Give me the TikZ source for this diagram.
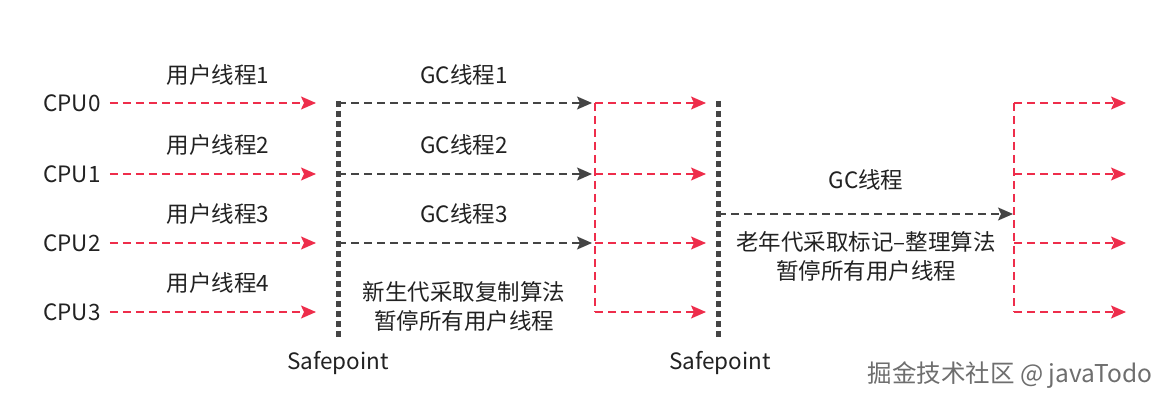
\documentclass[tikz,border=0pt]{standalone}
\usepackage{fontspec}
\setmainfont{Noto Sans CJK SC}
\usetikzlibrary{arrows.meta}
\definecolor{ured}{RGB}{238,45,75}
\definecolor{ugray}{RGB}{68,68,68}
\definecolor{utext}{RGB}{34,34,34}
\definecolor{wmark}{RGB}{110,110,110}
\tikzset{
  dashline/.style={line width=1.5pt, dash pattern=on 8pt off 5pt},
  redarr/.style={dashline, draw=ured, -{Stealth[length=15pt,width=13pt,inset=3pt]}},
  redline/.style={dashline, draw=ured},
  grayarr/.style={dashline, draw=ugray, -{Stealth[length=15pt,width=13pt,inset=3pt]}},
  safeline/.style={draw=ugray, line width=5pt, dash pattern=on 6pt off 4pt},
  lbl/.style={text=utext, font=\fontsize{22.5}{29}\selectfont, inner sep=0pt, align=center},
  wm/.style={text=wmark, font=\fontsize{24.5}{28}\selectfont, inner sep=0pt},
}
\begin{document}
\begin{tikzpicture}[x=1pt,y=-1pt]
\useasboundingbox[fill=white] (0,0) rectangle (1174,403);
% CPU labels
\node[lbl] (cpu0) at (72,103) {CPU0};
\node[lbl] (cpu1) at (72,174) {CPU1};
\node[lbl] (cpu2) at (72,243) {CPU2};
\node[lbl] (cpu3) at (72,312) {CPU3};
% user thread labels
\node[lbl] (u1) at (218,75) {用户线程1};
\node[lbl] (u2) at (218,145) {用户线程2};
\node[lbl] (u3) at (218,214) {用户线程3};
\node[lbl] (u4) at (218,283) {用户线程4};
% coordinates
\coordinate (a0) at (316,103);
\coordinate (a1) at (316,174);
\coordinate (a2) at (316,243);
\coordinate (a3) at (316,312);
\coordinate (s1t) at (338,101);
\coordinate (s1b) at (338,340);
\coordinate (s2t) at (718,101);
\coordinate (s2b) at (718,340);
\coordinate (g0s) at (338,103);
\coordinate (g1s) at (338,174);
\coordinate (g2s) at (338,243);
\coordinate (g0) at (592,103);
\coordinate (g1) at (592,174);
\coordinate (g2) at (592,243);
\coordinate (m0) at (595,103);
\coordinate (m1) at (595,174);
\coordinate (m2) at (595,243);
\coordinate (m3) at (595,312);
\coordinate (b0) at (706,103);
\coordinate (b1) at (706,174);
\coordinate (b2) at (706,243);
\coordinate (b3) at (706,312);
\coordinate (gs) at (718,214);
\coordinate (ge) at (1013,214);
\coordinate (r0) at (1014,103);
\coordinate (r1) at (1014,174);
\coordinate (r2) at (1014,243);
\coordinate (r3) at (1014,312);
\coordinate (e0) at (1126,103);
\coordinate (e1) at (1126,174);
\coordinate (e2) at (1126,243);
\coordinate (e3) at (1126,312);
% user thread arrows
\draw[redarr] ([xshift=9pt]cpu0.east) -- (a0);
\draw[redarr] ([xshift=9pt]cpu1.east) -- (a1);
\draw[redarr] ([xshift=9pt]cpu2.east) -- (a2);
\draw[redarr] ([xshift=9pt]cpu3.east) -- (a3);
% GC threads
\node[lbl] (gc1) at (464,75) {GC线程1};
\node[lbl] (gc2) at (464,145) {GC线程2};
\node[lbl] (gc3) at (464,214) {GC线程3};
\draw[grayarr] (g0s) -- (g0);
\draw[grayarr] (g1s) -- (g1);
\draw[grayarr] (g2s) -- (g2);
\node[lbl] (young) at (464,306) {新生代采取复制算法\\暂停所有用户线程};
% middle red
\draw[redline] (m0) -- (m3);
\draw[redarr] (m0) -- (b0);
\draw[redarr] (m1) -- (b1);
\draw[redarr] (m2) -- (b2);
\draw[redarr] (m3) -- (b3);
% safepoints
\draw[safeline] (s1t) -- (s1b);
\draw[safeline] (s2t) -- (s2b);
\node[lbl] (sp1) at (338,363) {Safepoint};
\node[lbl] (sp2) at (720,363) {Safepoint};
% old gen
\node[lbl] (gc) at (866,180) {GC线程};
\draw[grayarr] (gs) -- (ge);
\node[lbl] (old) at (866,256) {老年代采取标记–整理算法\\暂停所有用户线程};
\draw[redline] (r0) -- (r3);
\draw[redarr] (r0) -- (e0);
\draw[redarr] (r1) -- (e1);
\draw[redarr] (r2) -- (e2);
\draw[redarr] (r3) -- (e3);
% watermark
\node[wm, text=white] at (1011,376) {掘金技术社区 @ javaTodo};
\node[wm] (wmk) at (1010,375) {掘金技术社区 @ javaTodo};
\end{tikzpicture}
\end{document}
